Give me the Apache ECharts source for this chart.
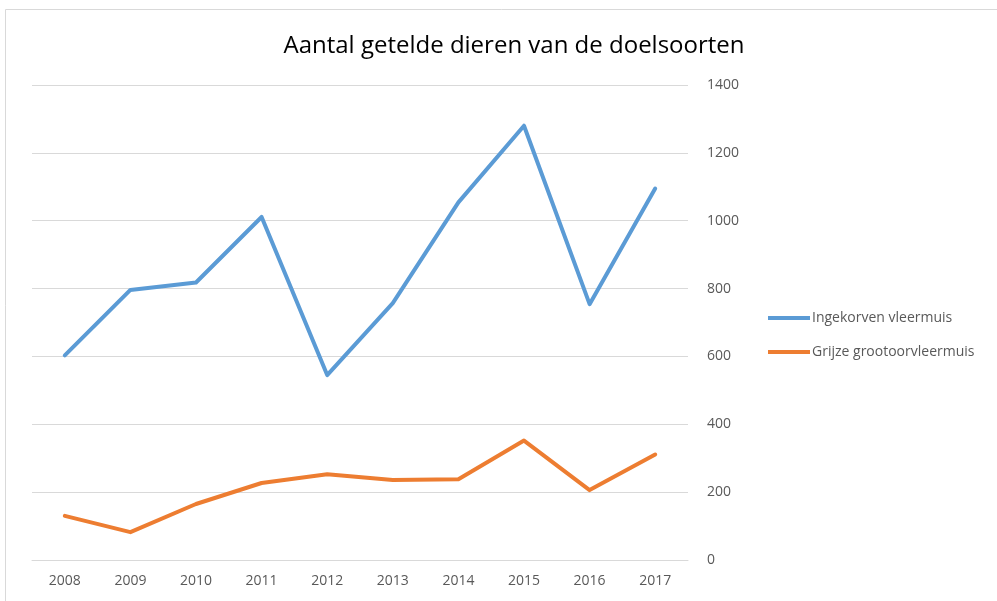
<!DOCTYPE html>
<html>
<head>
<meta charset="utf-8">
<script src="https://cdn.jsdelivr.net/npm/echarts@6/dist/echarts.min.js"></script>
<style>
  html, body { margin: 0; padding: 0; background: #fff; }
  #chart { width: 997px; height: 601px; }
</style>
</head>
<body>
<div id="chart"></div>
<script>
// jaren en tellingen per soort
var years = ['2008', '2009', '2010', '2011', '2012', '2013', '2014', '2015', '2016', '2017'];
var ingekorven = [603, 796, 818, 1011, 545, 757, 1054, 1280, 754, 1095];
var grijze = [130, 82, 165, 227, 253, 236, 238, 352, 206, 311];
var yTicks = [0, 200, 400, 600, 800, 1000, 1200, 1400];

var font = '"Open Sans", "Liberation Sans", sans-serif';
var myChart = echarts.init(document.getElementById('chart'));
myChart.setOption({
  animation: false,
  graphic: [
    {
      type: 'rect',
      shape: { x: 5.5, y: 9.5, width: 1100, height: 700 },
      style: { fill: 'none', stroke: '#d9d9d9', lineWidth: 1 },
      silent: true,
    },
  ],
  title: {
    text: 'Aantal getelde dieren van de doelsoorten',
    left: 509,
    textAlign: 'center',
    top: 29,
    textStyle: {
      fontFamily: font,
      fontSize: 24,
      fontWeight: 'normal',
      color: '#000',
    },
  },
  legend: {
    orient: 'vertical',
    left: 763,
    top: 306,
    itemWidth: 42,
    itemHeight: 4,
    itemGap: 20,
    icon: 'rect',
    textStyle: {
      fontFamily: font,
      fontSize: 14,
      color: '#595959',
      padding: [0, 0, 0, -3],
    },
    data: ['Ingekorven vleermuis', 'Grijze grootoorvleermuis'],
  },
  grid: {
    left: 32,
    right: 309,
    top: 85,
    bottom: 41,
  },
  xAxis: {
    type: 'category',
    data: years,
    boundaryGap: true,
    axisLine: { lineStyle: { color: '#d9d9d9' } },
    axisTick: { show: false },
    axisLabel: {
      color: '#595959',
      fontFamily: font,
      fontSize: 14,
      margin: 14,
    },
  },
  yAxis: {
    type: 'value',
    position: 'right',
    min: yTicks[0],
    max: yTicks[yTicks.length - 1],
    interval: 200,
    axisLine: { show: false },
    axisTick: { show: false },
    axisLabel: {
      color: '#595959',
      fontFamily: font,
      fontSize: 14,
      margin: 19,
      formatter: function(value) {
        return String(value);
      },
    },
    splitLine: { lineStyle: { color: '#d9d9d9', width: 1 } },
  },
  series: [
    {
      name: 'Ingekorven vleermuis',
      type: 'line',
      data: ingekorven,
      symbol: 'none',
      color: '#5B9BD5',
      lineStyle: { width: 4, join: 'round', cap: 'round' },
    },
    {
      name: 'Grijze grootoorvleermuis',
      type: 'line',
      data: grijze,
      symbol: 'none',
      color: '#ED7D31',
      lineStyle: { width: 4, join: 'round', cap: 'round' },
    },
  ],
});
</script>
</body>
</html>
